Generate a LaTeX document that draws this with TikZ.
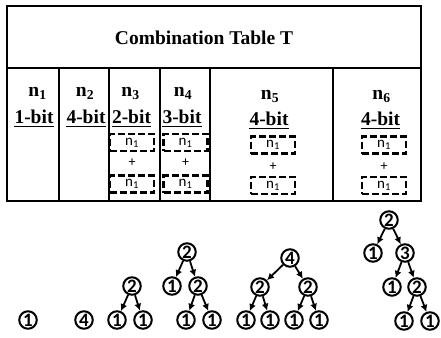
\documentclass[tikz,border=0pt]{standalone}
\usepackage{fontspec}
\setmainfont{Liberation Serif}
\newfontfamily\calfont{Carlito}
\usetikzlibrary{arrows.meta}
\begin{document}
\begin{tikzpicture}[x=1pt,y=-1pt,
  grid/.style={line width=1.8pt},
  hdr/.style={font=\fontsize{19.5}{19.5}\selectfont\bfseries, anchor=base, inner sep=0},
  ul/.style={line width=1.5pt},
  dbox/.style={draw, dash pattern=on 7pt off 3pt, line width=2.6pt, minimum width=44pt, minimum height=17pt, inner sep=0, font=\calfont\fontsize{15}{15}\selectfont},
  plus/.style={inner sep=0, font=\calfont\fontsize{14}{14}\selectfont},
  tn/.style={circle, draw, line width=2pt, minimum size=17.5pt, inner sep=0, font=\calfont\bfseries\fontsize{19}{19}\selectfont},
  arr/.style={-{Latex[length=7pt,width=7pt]}, line width=1.8pt}
]
\useasboundingbox (0,0) rectangle (441,337);
% table
\draw[grid] (7,6) rectangle (421,201);
\draw[grid] (7,68) -- (421,68);
\foreach \x in {59,109,160,210,333} \draw[grid] (\x,68) -- (\x,201);
\node[hdr] (title) at (204,45) {Combination Table T};
% headers
\node[hdr] (h1) at (37.5,96) {n\textsubscript{1}};
\node[hdr] (h2) at (85,96) {n\textsubscript{2}};
\node[hdr] (h3) at (130.5,96) {n\textsubscript{3}};
\node[hdr] (h4) at (183,96) {n\textsubscript{4}};
\node[hdr] (h5) at (270,99) {n\textsubscript{5}};
\node[hdr] (h6) at (381.5,99) {n\textsubscript{6}};
\node[hdr] (b1) at (34,123) {1-bit};
\node[hdr] (b2) at (86,123) {4-bit};
\node[hdr] (b3) at (131.5,123) {2-bit};
\node[hdr] (b4) at (182,123) {3-bit};
\node[hdr] (b5) at (269,125) {4-bit};
\node[hdr] (b6) at (380.5,125) {4-bit};
\foreach \b in {b1,b2,b3,b4,b5,b6}
  \draw[ul] ([yshift=-3.5pt]\b.base west) -- ([yshift=-3.5pt]\b.base east);
% dashed boxes
\node[dbox] (d3a) at (132,142.5) {n\textsubscript{1}};
\node[plus] (p3) at (132,163) {+};
\node[dbox] (d3b) at (132,184) {n\textsubscript{1}};
\node[dbox] (d4a) at (185.5,142.5) {n\textsubscript{1}};
\node[plus] (p4) at (185.5,163) {+};
\node[dbox] (d4b) at (185.5,184) {n\textsubscript{1}};
\node[dbox] (d5a) at (273,145) {n\textsubscript{1}};
\node[plus] (p5) at (273,167) {+};
\node[dbox] (d5b) at (273,185.5) {n\textsubscript{1}};
\node[dbox] (d6a) at (384,145) {n\textsubscript{1}};
\node[plus] (p6) at (384,167) {+};
\node[dbox] (d6b) at (384,185.5) {n\textsubscript{1}};
% trees
\node[tn] (t1) at (28,320) {1};
\node[tn] (t2) at (84,320) {4};
% n3
\node[tn] (a1) at (132,286) {2};
\node[tn] (a2) at (117,320) {1};
\node[tn] (a3) at (143,320) {1};
\draw[arr] (a1) -- (a2); \draw[arr] (a1) -- (a3);
% n4
\node[tn] (c1) at (187,252) {2};
\node[tn] (c2) at (172,286) {1};
\node[tn] (c3) at (198,286) {2};
\node[tn] (c4) at (186,320) {1};
\node[tn] (c5) at (212,320) {1};
\draw[arr] (c1) -- (c2); \draw[arr] (c1) -- (c3);
\draw[arr] (c3) -- (c4); \draw[arr] (c3) -- (c5);
% n5
\node[tn] (e1) at (290,258) {4};
\node[tn] (e2) at (260,287) {2};
\node[tn] (e3) at (308,287) {2};
\node[tn] (e4) at (246,320) {1};
\node[tn] (e5) at (270,320) {1};
\node[tn] (e6) at (294,320) {1};
\node[tn] (e7) at (319,320) {1};
\draw[arr] (e1) -- (e2); \draw[arr] (e1) -- (e3);
\draw[arr] (e2) -- (e4); \draw[arr] (e2) -- (e5);
\draw[arr] (e3) -- (e6); \draw[arr] (e3) -- (e7);
% n6
\node[tn] (f1) at (389,220) {2};
\node[tn] (f2) at (373,253) {1};
\node[tn] (f3) at (405,253) {3};
\node[tn] (f4) at (392,287) {1};
\node[tn] (f5) at (417,287) {2};
\node[tn] (f6) at (404,321) {1};
\node[tn] (f7) at (430,321) {1};
\draw[arr] (f1) -- (f2); \draw[arr] (f1) -- (f3);
\draw[arr] (f3) -- (f4); \draw[arr] (f3) -- (f5);
\draw[arr] (f5) -- (f6); \draw[arr] (f5) -- (f7);
\end{tikzpicture}
\end{document}
